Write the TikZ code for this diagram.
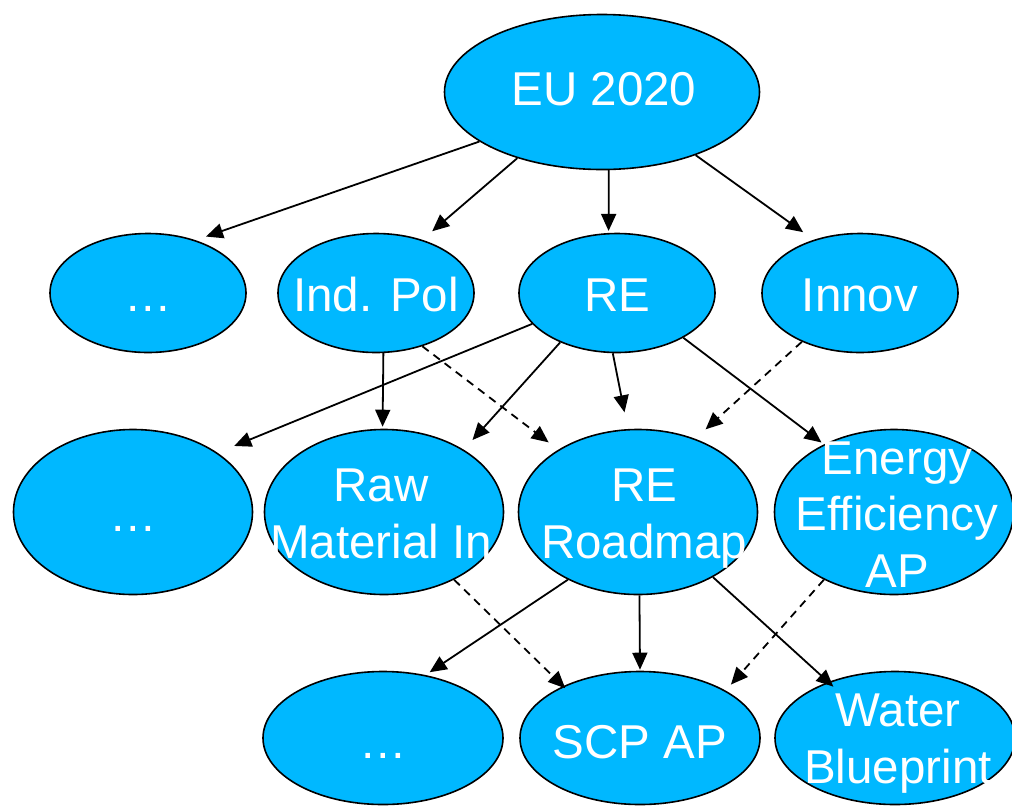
\documentclass[tikz,border=0pt]{standalone}
\usepackage{fontspec}
\setmainfont{Liberation Sans}
\usetikzlibrary{shapes.geometric,arrows.meta}
\definecolor{bubble}{RGB}{0,184,255}
\begin{document}
\begin{tikzpicture}[x=1pt,y=-1pt,
  blob/.style={ellipse,draw=black,line width=1.6pt,fill=bubble,inner sep=0pt},
  top/.style={blob,minimum width=315pt,minimum height=155pt},
  small/.style={blob,minimum width=196pt,minimum height=119pt},
  large/.style={blob,minimum width=239pt,minimum height=165pt},
  flat/.style={blob,minimum width=240pt,minimum height=133pt},
  lbl/.style={text=white,font=\fontsize{47.5}{56.5}\selectfont,align=center,anchor=base,inner sep=0pt},
  link/.style={line width=1.8pt,-{Triangle[length=17pt,width=15pt]}},
  dlink/.style={link,dash pattern=on 8pt off 6pt}]
\useasboundingbox (0,0) rectangle (1012,807);

% bubbles
\node[top]   (eu)  at (602,92)  {};
\node[small] (d2)  at (148,293) {};
\node[small] (ind) at (376,293) {};
\node[small] (re)  at (617,293) {};
\node[small] (inn) at (860,293) {};
\node[large] (d3)  at (133,512) {};
\node[large] (raw) at (384,512) {};
\node[large] (rm)  at (638,512) {};
\node[large] (ee)  at (894,512) {};
\node[flat]  (d4)  at (383,738) {};
\node[flat]  (scp) at (640,738) {};
\node[flat]  (wat) at (895,738) {};

% labels (positioned on the baseline of the last line)
\node[lbl] (eu-t)  at (604,105) {EU 2020};
\node[lbl] (d2-t)  at (148,311) {…};
\node[lbl] (ind-t) at (376,311) {Ind. Pol};
\node[lbl] (re-t)  at (617,311) {RE};
\node[lbl] (inn-t) at (860,311) {Innov};
\node[lbl] (d3-t)  at (133,531) {…};
\node[lbl] (raw-t) at (381,558) {Raw\\Material In};
\node[lbl] (rm-t)  at (644,558) {RE\\Roadmap};
\node[lbl] (ee-t)  at (897,587) {Energy\\Efficiency\\AP};
\node[lbl] (d4-t)  at (383,758) {…};
\node[lbl] (scp-t) at (640,758) {SCP AP};
\node[lbl] (wat-t) at (898,783) {Water\\Blueprint};

% connectors
\draw[link,shorten >=11pt] (eu.202) -- (d2.48);
\draw[link,shorten >=13pt] (eu.218) -- (ind.49);
\draw[link,shorten >=2pt]  (eu.275) -- (re.98);
\draw[link,shorten >=13pt] (eu.326) -- (inn.131);
\draw[link,shorten >=2pt]  (ind.277) -- (raw.91);
\draw[link,shorten >=18pt] (re.200) -- (d3.35);
\draw[link,shorten >=13pt] (re.221) -- (raw.38);
\draw[link,shorten >=17pt] (re.266) -- (rm.97);
\draw[link,shorten >=3pt]  (re.326) -- (ee.136);
\draw[dlink,shorten >=12pt] (ind.311) -- (rm.142);
\draw[dlink,shorten >=14pt] (inn.220) -- (rm.52);
\draw[link,shorten >=5pt]  (rm.224) -- (d4.56);
\draw[link,shorten >=1pt]  (rm.271) -- (scp.90);
\draw[link,shorten >=-7pt] (rm.319) -- (wat.140);
\draw[dlink,shorten >=-3pt] (raw.316) -- (scp.146);
\draw[dlink,shorten >=8pt] (ee.224) -- (scp.29);
\end{tikzpicture}
\end{document}
